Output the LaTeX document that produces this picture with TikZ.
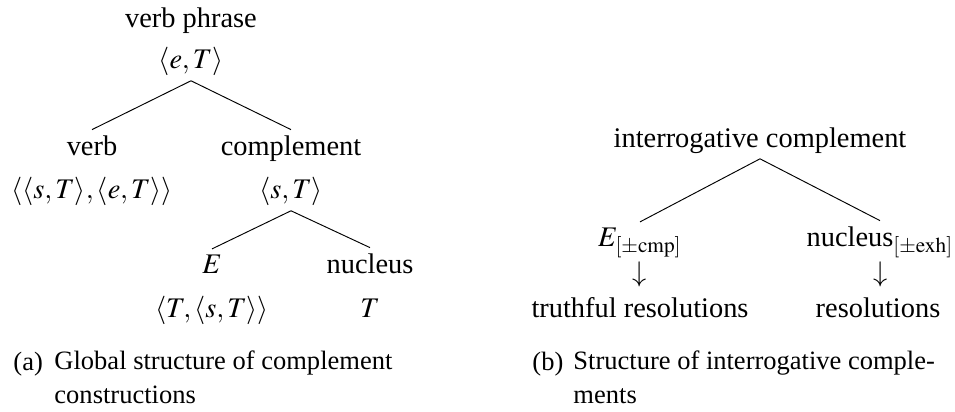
\documentclass[tikz,border=0pt]{standalone}
\usepackage{mathptmx}
\usepackage{fontspec}
\setmainfont{Liberation Serif}
\usetikzlibrary{positioning}

\tikzset{
  lbl/.style={anchor=base, inner sep=2.2pt},
  capt/.style={anchor=base west, inner sep=0pt, align=left,
    font=\fontsize{11.2}{14.1}\selectfont},
}

\begin{document}
\begin{tikzpicture}[x=0.4225pt, y=-0.4225pt, font=\fontsize{12}{14.5}\selectfont]
  \useasboundingbox (0,0) rectangle (955,411);

  % (a) global structure
  \node[lbl] (vp) at (191,27) {verb phrase};
  \node[lbl] (vpT) at (191,68) {$\langle e,T\rangle$};
  \node[lbl] (verb) at (92,155) {verb};
  \node[lbl] (verbT) at (92,198) {$\langle\langle s,T\rangle,\langle e,T\rangle\rangle$};
  \node[lbl] (comp) at (291,155) {complement};
  \node[lbl] (compT) at (291,198) {$\langle s,T\rangle$};
  \node[lbl] (e) at (212,273) {$E$};
  \node[lbl] (eT) at (212,317) {$\langle T,\langle s,T\rangle\rangle$};
  \node[lbl] (nuc) at (370,273) {nucleus};
  \node[lbl] (nucT) at (370,317) {$T$};

  \draw (vpT.south) -- (verb.north);
  \draw (vpT.south) -- (comp.north);
  \draw (compT.south) -- (e.north);
  \draw (compT.south) -- (nuc.north);

  % (b) interrogative complements
  \node[lbl] (icomp) at (760,147) {interrogative complement};
  \node[lbl] (ie) at (640,246) {$E_{[\pm\mathrm{cmp}]}$};
  \node[lbl, inner sep=0pt] (ieArr) at (640,281) {$\downarrow$};
  \node[lbl] (ieRes) at (640,317) {truthful resolutions};
  \node[lbl] (inuc) at (880,246) {nucleus$_{[\pm\mathrm{exh}]}$};
  \node[lbl, inner sep=0pt] (inucArr) at (881,281) {$\downarrow$};
  \node[lbl] (inucRes) at (878,317) {resolutions};

  \draw (icomp.south) -- (ie.north);
  \draw (icomp.south) -- (inuc.north);

  % captions (base = last line)
  \node[capt] (capA) at (13,370) {(a)};
  \node[capt] (capAtxt) at (54,403) {Global structure of complement\\constructions};
  \node[capt] (capB) at (532,370) {(b)};
  \node[capt] (capBtxt) at (573,403) {Structure of interrogative comple-\\ments};
\end{tikzpicture}
\end{document}
